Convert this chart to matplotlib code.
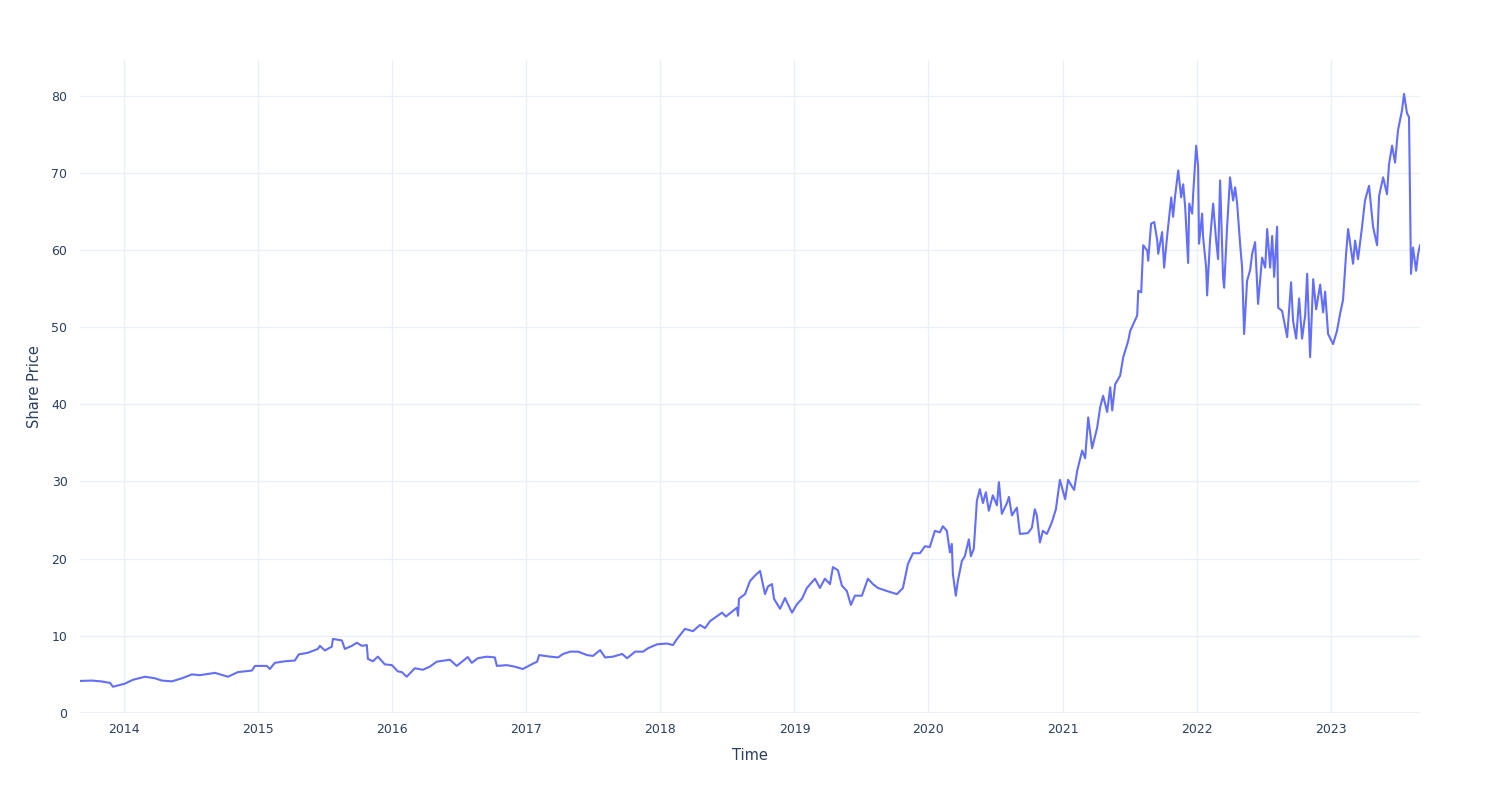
import pandas as pd
import matplotlib.pyplot as plt
import matplotlib.dates as mdates

years = [
    2013.672, 2013.761, 2013.828, 2013.896, 2013.918, 2014.007, 2014.067, 2014.157, 2014.231, 2014.283,
    2014.358, 2014.433, 2014.507, 2014.567, 2014.679, 2014.776, 2014.850, 2014.955, 2014.977, 2015.066,
    2015.089, 2015.126, 2015.201, 2015.275, 2015.305, 2015.372, 2015.447, 2015.462, 2015.499, 2015.551,
    2015.559, 2015.626, 2015.648, 2015.700, 2015.738, 2015.775, 2015.812, 2015.820, 2015.857, 2015.894,
    2015.946, 2015.999, 2016.043, 2016.073, 2016.110, 2016.170, 2016.230, 2016.282, 2016.334, 2016.431,
    2016.483, 2016.565, 2016.595, 2016.640, 2016.707, 2016.767, 2016.782, 2016.856, 2016.916, 2016.975,
    2017.050, 2017.080, 2017.095, 2017.177, 2017.236, 2017.274, 2017.326, 2017.386, 2017.453, 2017.497,
    2017.550, 2017.587, 2017.647, 2017.714, 2017.751, 2017.811, 2017.870, 2017.908, 2017.975, 2018.049,
    2018.094, 2018.124, 2018.183, 2018.243, 2018.295, 2018.333, 2018.370, 2018.459, 2018.489, 2018.571,
    2018.579, 2018.586, 2018.631, 2018.668, 2018.705, 2018.743, 2018.780, 2018.802, 2018.832, 2018.847,
    2018.892, 2018.929, 2018.981, 2019.019, 2019.056, 2019.093, 2019.153, 2019.190, 2019.227, 2019.265,
    2019.287, 2019.324, 2019.354, 2019.391, 2019.421, 2019.451, 2019.503, 2019.548, 2019.585, 2019.623,
    2019.690, 2019.764, 2019.809, 2019.846, 2019.884, 2019.936, 2019.973, 2020.010, 2020.048, 2020.085,
    2020.107, 2020.137, 2020.160, 2020.174, 2020.182, 2020.204, 2020.219, 2020.249, 2020.271, 2020.301,
    2020.316, 2020.338, 2020.361, 2020.383, 2020.406, 2020.428, 2020.450, 2020.480, 2020.510, 2020.525,
    2020.547, 2020.585, 2020.600, 2020.622, 2020.659, 2020.682, 2020.741, 2020.771, 2020.793, 2020.808,
    2020.831, 2020.853, 2020.883, 2020.920, 2020.950, 2020.980, 2021.017, 2021.039, 2021.069, 2021.084,
    2021.107, 2021.144, 2021.166, 2021.189, 2021.218, 2021.256, 2021.278, 2021.300, 2021.330, 2021.353,
    2021.368, 2021.390, 2021.427, 2021.450, 2021.487, 2021.502, 2021.554, 2021.562, 2021.584, 2021.599,
    2021.629, 2021.636, 2021.658, 2021.681, 2021.703, 2021.711, 2021.740, 2021.755, 2021.778, 2021.808,
    2021.822, 2021.837, 2021.860, 2021.882, 2021.897, 2021.912, 2021.934, 2021.942, 2021.964, 2021.972,
    2021.994, 2022.009, 2022.016, 2022.039, 2022.046, 2022.069, 2022.076, 2022.098, 2022.121, 2022.143,
    2022.158, 2022.173, 2022.195, 2022.203, 2022.225, 2022.247, 2022.270, 2022.285, 2022.300, 2022.322,
    2022.337, 2022.352, 2022.374, 2022.397, 2022.412, 2022.434, 2022.456, 2022.486, 2022.509, 2022.524,
    2022.546, 2022.561, 2022.576, 2022.598, 2022.606, 2022.635, 2022.658, 2022.673, 2022.702, 2022.717,
    2022.740, 2022.762, 2022.784, 2022.807, 2022.822, 2022.844, 2022.867, 2022.889, 2022.919, 2022.941,
    2022.956, 2022.978, 2023.016, 2023.045, 2023.068, 2023.090, 2023.113, 2023.128, 2023.165, 2023.180,
    2023.202, 2023.232, 2023.254, 2023.284, 2023.314, 2023.344, 2023.359, 2023.389, 2023.418, 2023.433,
    2023.456, 2023.478, 2023.500, 2023.530, 2023.545, 2023.567, 2023.582, 2023.597, 2023.612, 2023.635,
    2023.650, 2023.664,
]
prices = [
    4.15, 4.2, 4.1, 3.9, 3.4, 3.8, 4.3, 4.7, 4.5, 4.2,
    4.1, 4.5, 5.0, 4.9, 5.2, 4.7, 5.3, 5.5, 6.1, 6.1,
    5.7, 6.5, 6.7, 6.8, 7.6, 7.8, 8.3, 8.7, 8.1, 8.6,
    9.6, 9.4, 8.3, 8.7, 9.1, 8.7, 8.8, 7.0, 6.7, 7.3,
    6.3, 6.2, 5.4, 5.3, 4.7, 5.8, 5.6, 6.0, 6.65, 6.9,
    6.1, 7.25, 6.5, 7.1, 7.3, 7.2, 6.1, 6.2, 6.0, 5.7,
    6.4, 6.65, 7.5, 7.3, 7.2, 7.65, 7.95, 7.95, 7.5, 7.4,
    8.15, 7.2, 7.3, 7.65, 7.1, 7.95, 7.95, 8.4, 8.9, 9.0,
    8.8, 9.6, 10.9, 10.6, 11.4, 11.0, 11.9, 13.0, 12.5, 13.65,
    12.6, 14.8, 15.4, 17.1, 17.8, 18.4, 15.4, 16.4, 16.7, 14.8,
    13.5, 14.9, 13.0, 14.1, 14.8, 16.2, 17.4, 16.2, 17.4, 16.7,
    18.9, 18.5, 16.5, 15.8, 14.0, 15.2, 15.2, 17.4, 16.7, 16.2,
    15.8, 15.4, 16.2, 19.3, 20.7, 20.7, 21.6, 21.5, 23.6, 23.4,
    24.2, 23.6, 20.8, 21.9, 18.0, 15.2, 17.1, 19.7, 20.3, 22.5,
    20.3, 21.3, 27.5, 29.0, 27.2, 28.6, 26.2, 28.2, 26.9, 29.9,
    25.8, 27.2, 28.0, 25.6, 26.6, 23.2, 23.3, 24.0, 26.4, 25.6,
    22.1, 23.6, 23.2, 24.7, 26.4, 30.2, 27.7, 30.2, 29.3, 28.9,
    31.4, 34.0, 33.0, 38.3, 34.3, 37.0, 39.6, 41.1, 39.0, 42.2,
    39.2, 42.6, 43.7, 46.1, 48.2, 49.5, 51.5, 54.7, 54.5, 60.6,
    59.9, 58.6, 63.4, 63.6, 61.3, 59.5, 62.3, 57.7, 61.9, 66.8,
    64.3, 67.0, 70.3, 66.8, 68.5, 65.5, 58.3, 66.0, 64.7, 67.4,
    73.5, 70.8, 60.8, 64.7, 61.7, 57.7, 54.1, 61.3, 66.0, 61.3,
    58.8, 69.0, 56.4, 55.1, 62.9, 69.4, 66.4, 68.1, 66.0, 60.8,
    57.7, 49.1, 56.0, 57.4, 59.5, 61.0, 53.0, 59.0, 57.7, 62.7,
    57.7, 61.8, 56.5, 63.0, 52.5, 52.1, 50.0, 48.7, 55.8, 50.8,
    48.5, 53.7, 48.5, 51.5, 56.9, 46.1, 56.2, 52.3, 55.5, 51.9,
    54.6, 49.1, 47.8, 49.5, 51.7, 53.5, 59.5, 62.7, 58.2, 61.2,
    58.8, 63.0, 66.4, 68.3, 63.0, 60.6, 67.0, 69.4, 67.2, 71.1,
    73.5, 71.3, 75.5, 78.1, 80.2, 77.7, 77.2, 56.9, 60.3, 57.3,
    59.5, 60.6,
]

year_ticks = [2014, 2015, 2016, 2017, 2018, 2019, 2020, 2021, 2022, 2023]
price_ticks = [0, 10, 20, 30, 40, 50, 60, 70, 80]

# turn decimal years into timestamps
dates = []
for y in years:
    start = pd.Timestamp(year=int(y), month=1, day=1)
    dates.append(start + pd.Timedelta(days=(y - int(y)) * 365.25))

grid_col = "#EBF0F8"
text_col = "#2a3f5f"

fig = plt.figure(figsize=(15, 8), dpi=100)
ax = fig.add_axes([80 / 1500, 87 / 800, 1340 / 1500, 653 / 800])

ax.plot(dates, prices, color="#636EFA", linewidth=1.5, zorder=3)

ax.set_xlim(dates[0], dates[-1])
ax.set_ylim(0, 84.6)

ax.set_xticks([pd.Timestamp(year=y, month=1, day=1) for y in year_ticks])
ax.xaxis.set_major_formatter(mdates.DateFormatter("%Y"))
ax.set_yticks(price_ticks)

ax.grid(True, color=grid_col, linewidth=1)
ax.axhline(0, color=grid_col, linewidth=2, zorder=2)
ax.set_axisbelow(True)
for s in ax.spines.values():
    s.set_visible(False)

ax.tick_params(axis="both", length=0, labelsize=9, colors=text_col)
ax.tick_params(axis="x", pad=7)
ax.tick_params(axis="y", pad=9)

ax.set_xlabel("Time", fontsize=10.5, color=text_col, labelpad=9)
ax.set_ylabel("Share Price", fontsize=10.5, color=text_col, labelpad=7)

fig.savefig("out.png", dpi=100, facecolor="white")
